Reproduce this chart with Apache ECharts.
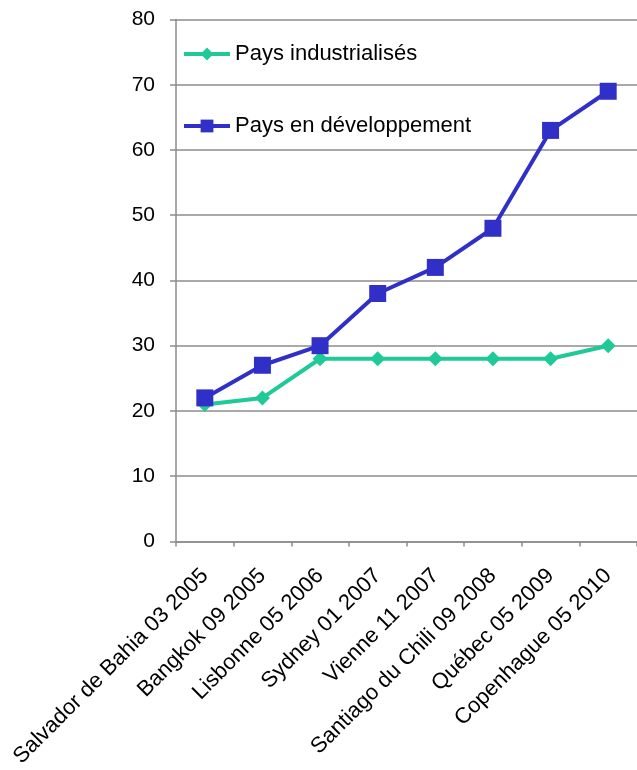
<!DOCTYPE html>
<html>
<head>
<meta charset="utf-8">
<script src="https://cdn.jsdelivr.net/npm/echarts@6/dist/echarts.min.js"></script>
<style>
  html, body { margin: 0; padding: 0; background: #fff; }
  #chart { width: 637px; height: 770px; }
</style>
</head>
<body>
<div id="chart"></div>
<script>
// Conférences : taux de participation par groupe de pays
const categories = [
  'Salvador de Bahia 03 2005',
  'Bangkok 09 2005',
  'Lisbonne 05 2006',
  'Sydney 01 2007',
  'Vienne 11 2007',
  'Santiago du Chili 09 2008',
  'Québec 05 2009',
  'Copenhague 05 2010'
];
const paysIndustrialises = [21, 22, 28, 28, 28, 28, 28, 30];
const paysEnDeveloppement = [22, 27, 30, 38, 42, 48, 63, 69];
const yTicks = { min: 0, max: 80, interval: 10 };

const font = 'Liberation Sans, Arial, sans-serif';
const axisGray = '#8c8c8c';
const green = '#1fc998';
const blue = '#3030c8';

function legendBox(name, top, color) {
  return {
    orient: 'horizontal',
    left: 182,
    top: top,
    padding: 0,
    itemWidth: 46,
    itemHeight: 16,
    lineStyle: { color: color, width: 4 },
    itemStyle: { color: color },
    textStyle: { fontFamily: font, fontSize: 22, color: '#000' },
    data: [name]
  };
}

const chart = echarts.init(document.getElementById('chart'), null, { renderer: 'canvas' });
chart.setOption({
  animation: false,
  backgroundColor: '#ffffff',
  grid: { left: 176, right: -5, top: 19.5, bottom: 228, containLabel: false },
  legend: [
    legendBox('Pays industrialisés', 43, green),
    legendBox('Pays en développement', 115, blue)
  ],
  xAxis: {
    type: 'category',
    data: categories,
    boundaryGap: true,
    axisLine: { lineStyle: { color: axisGray, width: 1.5 } },
    axisTick: { show: true, length: 5, lineStyle: { color: axisGray, width: 1.5 } },
    axisLabel: {
      rotate: 45, interval: 0, margin: 31,
      fontFamily: font, fontSize: 22, color: '#000'
    },
    splitLine: { show: false }
  },
  yAxis: {
    type: 'value',
    min: yTicks.min, max: yTicks.max, interval: yTicks.interval,
    axisLine: { show: true, lineStyle: { color: axisGray, width: 1.5 } },
    axisTick: { show: true, length: 6, lineStyle: { color: axisGray, width: 1.5 } },
    axisLabel: { fontFamily: font, fontSize: 21, color: '#000', margin: 21 },
    splitLine: { show: true, lineStyle: { color: axisGray, width: 1.5 } }
  },
  series: [
    {
      name: 'Pays industrialisés',
      type: 'line',
      data: paysIndustrialises,
      symbol: 'diamond',
      symbolSize: 15,
      lineStyle: { color: green, width: 4 },
      itemStyle: { color: green },
      z: 2
    },
    {
      name: 'Pays en développement',
      type: 'line',
      data: paysEnDeveloppement,
      symbol: 'rect',
      symbolSize: 17,
      lineStyle: { color: blue, width: 4 },
      itemStyle: { color: blue },
      z: 3
    }
  ]
});
</script>
</body>
</html>
